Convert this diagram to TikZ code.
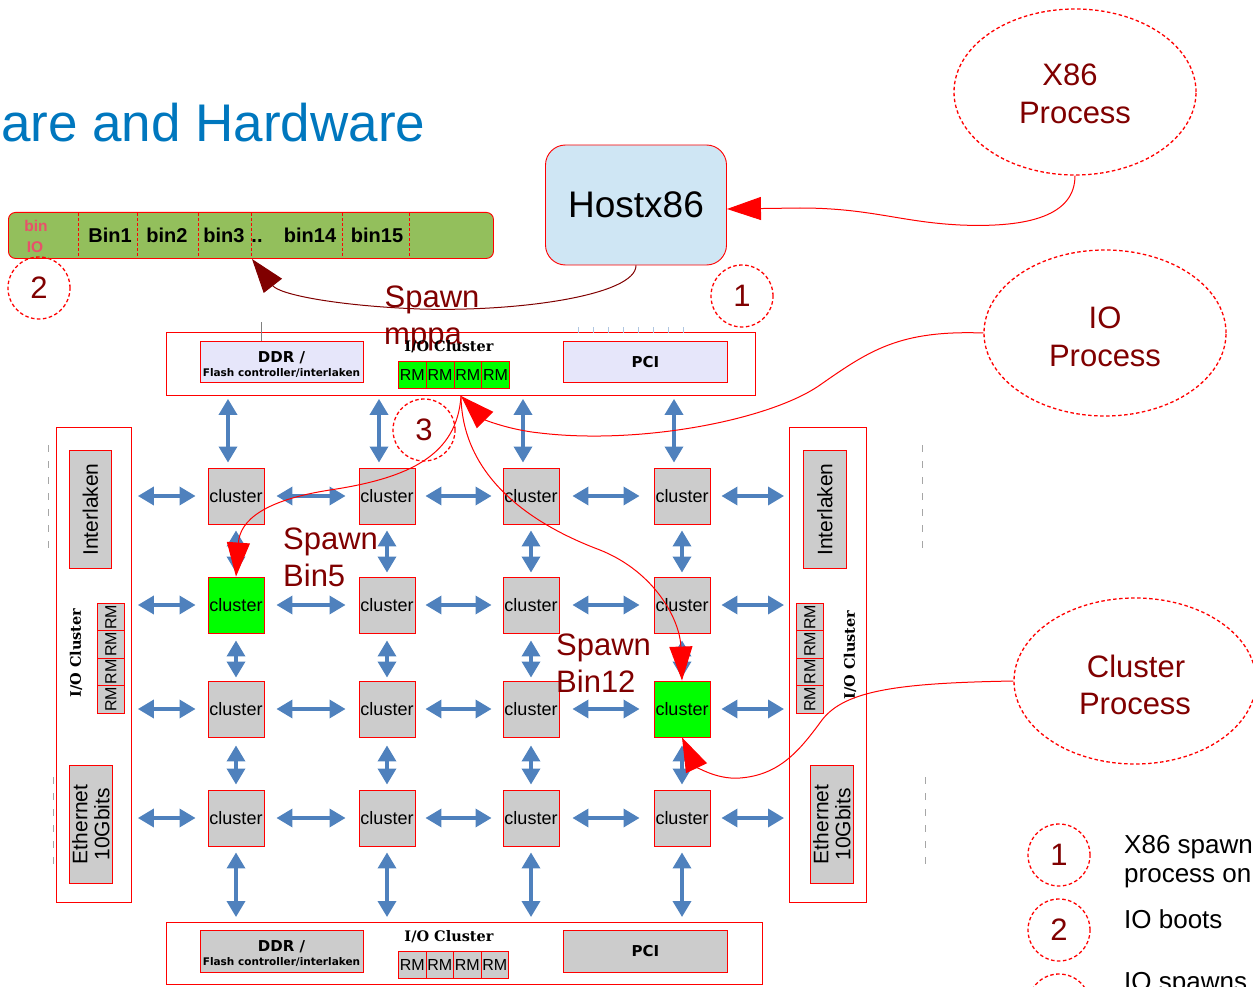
\documentclass[tikz,border=0pt]{standalone}
\usepackage{fontspec}
\setmainfont{Liberation Sans}
\newfontfamily\dvsans{DejaVu Sans}
\newfontfamily\dvserif{DejaVu Serif}
\usetikzlibrary{arrows.meta,shapes.geometric,calc}
\definecolor{titleblue}{HTML}{0077BE}
\definecolor{bargreen}{HTML}{93BF5C}
\definecolor{hostblue}{HTML}{CFE6F4}
\definecolor{lav}{HTML}{E6E6FA}
\definecolor{clgray}{HTML}{CCCCCC}
\definecolor{clgreen}{HTML}{00FF00}
\definecolor{dred}{HTML}{800000}
\definecolor{ablue}{HTML}{4F81BD}
\definecolor{pinkt}{HTML}{E8506A}
\newcommand\myfs[2]{\fontsize{#1}{#2}\selectfont}
\begin{document}
\begin{tikzpicture}[x=1pt,y=-1pt,
  box/.style={draw=red, line width=0.9pt, inner sep=0pt, anchor=north west},
  clusterbox/.style={draw=red, line width=0.9pt, minimum width=56pt, minimum height=56pt, inner sep=0pt, font=\myfs{18}{18}},
  numc/.style={circle, draw=red, line width=1.3pt, dash pattern=on 3.5pt off 2.5pt, minimum size=62pt, inner sep=0pt, text=dred, font=\myfs{31}{31}},
  proc/.style={ellipse, draw=red, line width=1.3pt, dash pattern=on 3.5pt off 2.5pt, minimum width=242pt, minimum height=166pt, inner sep=0pt},
  lbl/.style={anchor=base, inner sep=0pt},
  proctext/.style={lbl, text=dred, font=\myfs{31}{31}},
  rottext/.style={rotate=90, inner sep=0pt},
  barrow/.style={draw=ablue, line width=3.5pt, {Triangle[length=16pt,width=18pt]}-{Triangle[length=16pt,width=18pt]}},
  redarr/.style={draw=red, line width=1pt, -{Triangle[length=34pt,width=23pt]}},
  darr/.style={draw=dred, line width=1pt, -{Triangle[length=34pt,width=23pt]}},
  gdash/.style={draw=gray!70, line width=1pt, dash pattern=on 7pt off 9pt}
]
\useasboundingbox (0,0) rectangle (1253,987);

% title
\node[anchor=base west, inner sep=0pt, text=titleblue, font=\myfs{53}{53}] (title) at (1,142) {are and Hardware};

% bin bar
\node[draw=red, line width=0.9pt, fill=bargreen, rounded corners=7pt, minimum width=485pt, minimum height=46pt, inner sep=0pt, anchor=north west] (bar) at (8,212) {};
\foreach \x in {78,137,198,251,342,409} \draw[red, line width=0.8pt, dash pattern=on 3pt off 2pt] (\x,213) -- (\x,257);
\node[lbl, text=pinkt, font=\bfseries\myfs{15.5}{15.5}] (binioA) at (36,232) {bin};
\node[lbl, text=pinkt, font=\bfseries\myfs{15.5}{15.5}] (binioB) at (35,253) {IO};
\node[lbl, font=\bfseries\myfs{20}{20}] (binA) at (110,243) {Bin1};
\node[lbl, font=\bfseries\myfs{20}{20}] (binB) at (167,243) {bin2};
\node[lbl, font=\bfseries\myfs{20}{20}] (binC) at (224,243) {bin3};
\node[lbl, font=\bfseries\myfs{20}{20}] (binD) at (257,243) {..};
\node[lbl, font=\bfseries\myfs{20}{20}] (binE) at (310,243) {bin14};
\node[lbl, font=\bfseries\myfs{20}{20}] (binF) at (377,243) {bin15};
\coordinate (barTip) at (252,259);

\node[numc] (n2) at (39,288) {2};

% host
\node[draw=red, line width=0.9pt, fill=hostblue, rounded corners=20pt, minimum width=181pt, minimum height=120pt, inner sep=0pt, font=\myfs{37}{37}] (host) at (636,205) {Hostx86};
\node[numc] (n1) at (742,296) {1};

% process ellipses
\node[proc] (x86) at (1075,92) {};
\node[proctext] (x86a) at (1070,86) {X86};
\node[proctext] (x86b) at (1075,124) {Process};
\node[proc] (ioproc) at (1105,333) {};
\node[proctext] (ioa) at (1105,328) {IO};
\node[proctext] (iob) at (1105,366) {Process};
\node[proc] (clproc) at (1135,681) {};
\node[proctext] (cla) at (1136,677) {Cluster};
\node[proctext] (clb) at (1135,714) {Process};

% top IO cluster
\node[box, minimum width=589pt, minimum height=63pt] (topio) at (166,332) {};
\draw[gray, line width=0.8pt] (261,322) -- (261,341);
\foreach \x in {578,593,...,683} \draw[ablue!45, line width=0.7pt] (\x,327) -- (\x,333);
\node[box, fill=lav, minimum width=163pt, minimum height=41pt] (ddrT) at (200,341) {};
\node[lbl, font=\dvsans\bfseries\myfs{15}{15}] (ddrTa) at (281.5,362) {DDR /};
\node[lbl, font=\dvsans\bfseries\myfs{10.5}{10.5}] (ddrTb) at (281.5,376) {Flash controller/interlaken};
\node[lbl, text=dred, font=\myfs{31}{31}] (spawnA) at (432,307) {Spawn};
\node[lbl, text=dred, font=\myfs{31}{31}] (mppa) at (423,344) {mppa};
\node[lbl, font=\dvserif\bfseries\myfs{14.5}{14.5}] (ioT) at (449,351) {I/O Cluster};
\foreach \i in {0,...,3} \node[box, fill=clgreen, minimum width=27.75pt, minimum height=27pt, font=\myfs{16}{16}] (rmT\i) at ({398+27.75*\i},361) {RM};
\node[box, fill=lav, minimum width=164pt, minimum height=41pt, font=\dvsans\bfseries\myfs{15}{15}] (pciT) at (563,341) {PCI};
\coordinate (ioTip) at (461,396);

% bottom IO cluster
\node[box, minimum width=596pt, minimum height=62pt] (botio) at (166,922) {};
\node[box, fill=clgray, minimum width=163pt, minimum height=42pt] (ddrB) at (200,930) {};
\node[lbl, font=\dvsans\bfseries\myfs{15}{15}] (ddrBa) at (281.5,951) {DDR /};
\node[lbl, font=\dvsans\bfseries\myfs{10.5}{10.5}] (ddrBb) at (281.5,965) {Flash controller/interlaken};
\node[lbl, font=\dvserif\bfseries\myfs{14.5}{14.5}] (ioB) at (449,941) {I/O Cluster};
\foreach \i in {0,...,3} \node[box, fill=clgray, minimum width=27.5pt, minimum height=27pt, font=\myfs{16}{16}] (rmB\i) at ({398+27.5*\i},951) {RM};
\node[box, fill=clgray, minimum width=164pt, minimum height=42pt, font=\dvsans\bfseries\myfs{15}{15}] (pciB) at (563,930) {PCI};

% left IO cluster
\node[box, minimum width=75pt, minimum height=475pt] (leftio) at (56,427) {};
\node[box, fill=clgray, minimum width=42pt, minimum height=118pt] (ilL) at (69,450) {};
\node[rottext, font=\myfs{21}{21}] (ilLt) at (ilL.center) {Interlaken};
\foreach \i in {0,...,3}{
  \node[box, fill=clgray, minimum width=27pt, minimum height=27.4pt] (rmL\i) at (97,{603+27.4*\i}) {};
  \node[rottext, font=\myfs{16}{16}] (rmLt\i) at (rmL\i.center) {RM};
}
\node[rottext, font=\dvserif\bfseries\myfs{14.5}{14.5}] (ioL) at (76,653) {I/O Cluster};
\node[box, fill=clgray, minimum width=43pt, minimum height=118pt] (ethL) at (69,765) {};
\node[rottext, align=center, font=\myfs{21}{22}] (ethLt) at (ethL.center) {Ethernet\\10Gbits};

% right IO cluster
\node[box, minimum width=77pt, minimum height=475pt] (rightio) at (789,427) {};
\node[box, fill=clgray, minimum width=43pt, minimum height=118pt] (ilR) at (803,450) {};
\node[rottext, font=\myfs{21}{21}] (ilRt) at (ilR.center) {Interlaken};
\foreach \i in {0,...,3}{
  \node[box, fill=clgray, minimum width=27pt, minimum height=27.4pt] (rmR\i) at (796,{603+27.4*\i}) {};
  \node[rottext, font=\myfs{16}{16}] (rmRt\i) at (rmR\i.center) {RM};
}
\node[rottext, font=\dvserif\bfseries\myfs{14.5}{14.5}] (ioR) at (850,655) {I/O Cluster};
\node[box, fill=clgray, minimum width=43pt, minimum height=118pt] (ethR) at (810,765) {};
\node[rottext, align=center, font=\myfs{21}{22}] (ethRt) at (ethR.center) {Ethernet\\10Gbits};

% grey dashed marks
\draw[gdash] (48,445) -- (48,552);
\draw[gdash] (53,777) -- (53,868);
\draw[gdash] (922,445) -- (922,552);
\draw[gdash] (925,777) -- (925,866);

% clusters
\foreach \r/\y in {0/496,1/605,2/709,3/818}{
  \foreach \c/\x in {0/236,1/387,2/531,3/682}{
    \def\fillc{clgray}
    \ifnum\r\c=10 \def\fillc{clgreen}\fi
    \ifnum\r\c=23 \def\fillc{clgreen}\fi
    \node[clusterbox, fill=\fillc] (c\r\c) at (\x,\y) {cluster};
  }
}

% blue arrows
\foreach \r in {0,...,3}{
  \draw[barrow, shorten <=6pt, shorten >=12pt] (leftio.east |- c\r0) -- (c\r0.west);
  \draw[barrow, shorten <=12pt, shorten >=13pt] (c\r0.east) -- (c\r1.west);
  \draw[barrow, shorten <=10pt, shorten >=11pt] (c\r1.east) -- (c\r2.west);
  \draw[barrow, shorten <=13pt, shorten >=14pt] (c\r2.east) -- (c\r3.west);
  \draw[barrow, shorten <=11pt, shorten >=5pt] (c\r3.east) -- (rightio.west |- c\r3);
}
\foreach \c in {0,...,3}{
  \draw[barrow, shorten <=3pt, shorten >=5pt] ([xshift=-8pt]c0\c.north |- topio.south) -- ([xshift=-8pt]c0\c.north);
  \draw[barrow, shorten <=6pt, shorten >=4pt] (c0\c.south) -- (c1\c.north);
  \draw[barrow, shorten <=7pt, shorten >=3pt] (c1\c.south) -- (c2\c.north);
  \draw[barrow, shorten <=8pt, shorten >=5pt] (c2\c.south) -- (c3\c.north);
  \draw[barrow, shorten <=6pt, shorten >=5pt] (c3\c.south) -- (c3\c.south |- botio.north);
}

\node[numc] (n3) at (424,430) {3};

% spawn labels
\node[anchor=base west, inner sep=0pt, text=dred, font=\myfs{31}{31}] (sp5a) at (283,549) {Spawn};
\node[anchor=base west, inner sep=0pt, text=dred, font=\myfs{31}{31}] (sp5b) at (283,586) {Bin5};
\node[anchor=base west, inner sep=0pt, text=dred, font=\myfs{31}{31}] (sp12a) at (556,655) {Spawn};
\node[anchor=base west, inner sep=0pt, text=dred, font=\myfs{31}{31}] (sp12b) at (556,692) {Bin12};

% curves
\draw[redarr] (x86.south) .. controls (1075,215) and (1030,228) .. (960,225) .. controls (900,222) and (870,208) .. (800,208) -- ([yshift=-4pt]host.east);
\draw[darr] (host.south) .. controls (636,295) and (520,312) .. (420,309) .. controls (340,306) and (280,295) .. (barTip);
\draw[redarr] (ioproc.west) .. controls (900,330) and (870,350) .. (820,385) .. controls (770,420) and (640,445) .. (540,433) .. controls (510,430) and (485,420) .. (ioTip);
\draw[redarr] (ioTip) .. controls (457,455) and (410,478) .. (330,490) .. controls (265,500) and (240,520) .. (c10.north);
\draw[redarr] (ioTip) .. controls (462,470) and (520,520) .. (600,550) .. controls (655,572) and (680,620) .. (c23.north);
\draw[redarr] (clproc.west) .. controls (900,683) and (845,690) .. (822,720) .. controls (800,750) and (780,775) .. (740,778) .. controls (715,780) and (695,765) .. (c23.south);

% legend
\node[numc] (l1) at (1059,855) {1};
\node[numc] (l2) at (1059,930) {2};
\node[numc] (l3) at (1059,1005) {};
\node[anchor=base west, inner sep=0pt, font=\myfs{26}{26}] (lt1) at (1124,853) {X86 spawn};
\node[anchor=base west, inner sep=0pt, font=\myfs{26}{26}] (lt1b) at (1124,882) {process on};
\node[anchor=base west, inner sep=0pt, font=\myfs{26}{26}] (lt2) at (1124,928) {IO boots};
\node[anchor=base west, inner sep=0pt, font=\myfs{26}{26}] (lt3) at (1124,990) {IO spawns};
\end{tikzpicture}
\end{document}
